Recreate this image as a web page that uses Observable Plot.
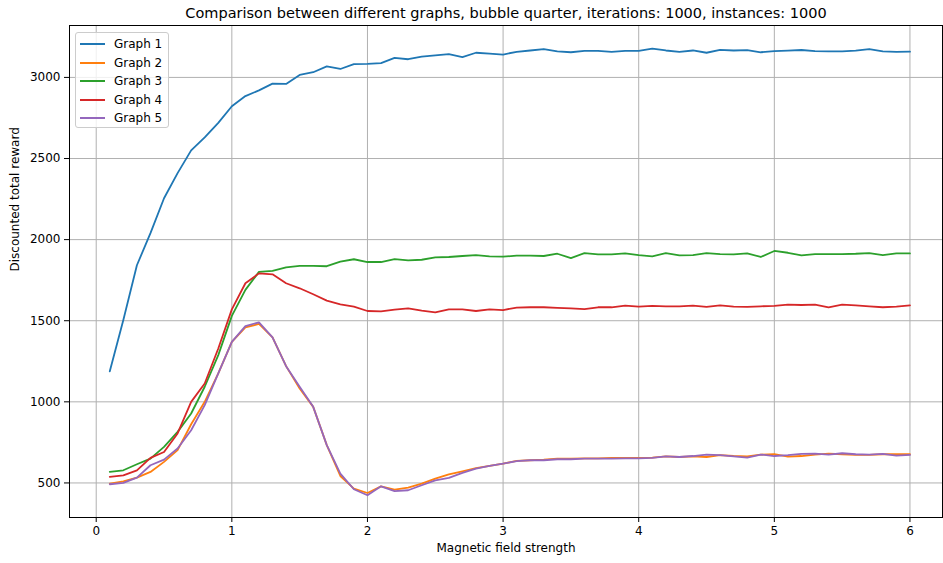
<!DOCTYPE html>
<html>
<head>
<meta charset="utf-8">
<script src="https://cdn.jsdelivr.net/npm/d3@7"></script>
<script src="https://cdn.jsdelivr.net/npm/@observablehq/plot@0.6"></script>
<style>
  html, body { margin: 0; padding: 0; background: white; }
  #wrap { position: relative; width: 943px; height: 563px; font-family: "DejaVu Sans", sans-serif; }
  #legend { position: absolute; left: 75px; top: 32px; width: 94px; height: 96px; box-sizing: border-box;
    border: 1px solid #cccccc; border-radius: 3px; background: rgba(255,255,255,0.8); }
  .item { position: absolute; left: 4px; height: 14px; display: flex; align-items: center; font-size: 12px; color: #000; white-space: nowrap; }
  .sw { width: 25px; height: 2px; margin-right: 9px; display: inline-block; }
</style>
</head>
<body>
<div id="wrap"><div id="legend"></div></div>
<script>
const title = "Comparison between different graphs, bubble quarter, iterations: 1000, instances: 1000";
const xLabel = "Magnetic field strength";
const yLabel = "Discounted total reward";
const seriesNames = ["Graph 1", "Graph 2", "Graph 3", "Graph 4", "Graph 5"];
const colors = ["#1f77b4", "#ff7f0e", "#2ca02c", "#d62728", "#9467bd"];
const xTicks = [0, 1, 2, 3, 4, 5, 6];
const yTicks = [500, 1000, 1500, 2000, 2500, 3000];

const xs = [0.1,0.2,0.3,0.4,0.5,0.6,0.7,0.8,0.9,1.0,1.1,1.2,1.3,1.4,1.5,1.6,1.7,1.8,1.9,2.0,
  2.1,2.2,2.3,2.4,2.5,2.6,2.7,2.8,2.9,3.0,3.1,3.2,3.3,3.4,3.5,3.6,3.7,3.8,3.9,4.0,
  4.1,4.2,4.3,4.4,4.5,4.6,4.7,4.8,4.9,5.0,5.1,5.2,5.3,5.4,5.5,5.6,5.7,5.8,5.9,6.0];

const graph1 = [1188,1505,1842,2040,2255,2410,2550,2630,2720,2822,2885,2920,2962,2960,3015,3032,3068,3052,3082,3083,
  3088,3120,3112,3128,3136,3143,3125,3152,3146,3141,3158,3166,3175,3160,3155,3164,3164,3158,3164,3164,
  3178,3166,3158,3166,3152,3170,3166,3168,3155,3162,3165,3169,3162,3160,3160,3165,3175,3160,3157,3159];
const graph2 = [496,510,533,568,630,702,862,1000,1175,1370,1459,1480,1397,1220,1082,969,733,543,465,438,
  479,459,471,496,527,553,572,592,605,619,636,640,644,650,650,652,652,654,654,654,
  656,664,660,664,660,671,666,664,675,677,662,666,675,681,677,673,673,677,677,677];
const graph3 = [568,578,615,650,722,815,928,1093,1288,1530,1690,1801,1807,1829,1838,1838,1836,1864,1879,1862,
  1862,1880,1872,1876,1890,1893,1899,1905,1897,1895,1901,1901,1899,1913,1886,1917,1909,1909,1915,1905,
  1897,1917,1903,1905,1917,1911,1909,1915,1893,1930,1919,1903,1911,1911,1911,1913,1917,1905,1915,1915];
const graph4 = [537,547,578,655,691,805,1000,1113,1329,1570,1731,1792,1786,1731,1700,1663,1624,1601,1587,1560,
  1558,1568,1576,1562,1552,1570,1570,1560,1570,1566,1581,1583,1583,1579,1576,1572,1583,1583,1593,1587,
  1591,1589,1589,1593,1585,1595,1587,1585,1589,1591,1599,1597,1599,1583,1599,1595,1589,1583,1587,1595];
const graph5 = [492,500,533,609,644,712,825,980,1175,1370,1467,1490,1397,1220,1093,969,733,558,461,424,
  479,449,455,486,516,531,562,588,605,619,634,640,640,646,646,650,650,650,652,652,
  654,664,660,666,675,671,664,656,675,666,671,679,681,675,683,677,675,679,669,673];

const allSeries = [graph1, graph2, graph3, graph4, graph5];
const data = allSeries.flatMap((vals, i) => vals.map((v, j) => ({x: xs[j], y: v, series: seriesNames[i]})));

const chart = Plot.plot({
  width: 943, height: 563,
  marginLeft: 69, marginRight: 1, marginTop: 25, marginBottom: 46,
  style: {fontFamily: "DejaVu Sans, sans-serif", fontSize: "12px", background: "white", color: "#000", overflow: "visible"},
  x: {domain: [-0.197, 6.24]},
  y: {domain: [287, 3320]},
  marks: [
    Plot.gridX(xTicks, {stroke: "#b0b0b0", strokeOpacity: 1, strokeWidth: 1}),
    Plot.gridY(yTicks, {stroke: "#b0b0b0", strokeOpacity: 1, strokeWidth: 1}),
    ...seriesNames.map((name, i) => Plot.line(data.filter(d => d.series === name),
      {x: "x", y: "y", stroke: colors[i], strokeWidth: 1.8, strokeLinejoin: "round"})),
    Plot.frame({stroke: "#000", strokeWidth: 1}),
    Plot.axisX(xTicks, {tickSize: 5, tickPadding: 4, label: null, fontSize: 12, tickFormat: d => String(d)}),
    Plot.axisY(yTicks, {tickSize: 5, tickPadding: 4, label: null, fontSize: 12, tickFormat: d => String(d)}),
    Plot.text([xLabel], {frameAnchor: "bottom", lineAnchor: "middle", dy: 31, fontSize: 12}),
    Plot.text([yLabel], {frameAnchor: "left", lineAnchor: "middle", dx: -54, rotate: -90, fontSize: 12}),
    Plot.text([title], {frameAnchor: "top", lineAnchor: "middle", dy: -12, fontSize: 14.5})
  ]
});
const wrap = document.getElementById("wrap");
wrap.insertBefore(chart, wrap.firstChild);

const legend = document.getElementById("legend");
seriesNames.forEach((name, i) => {
  const it = document.createElement("div");
  it.className = "item";
  it.style.top = (4 + i * 18.6) + "px";
  it.innerHTML = `<span class="sw" style="background:${colors[i]}"></span><span>${name}</span>`;
  legend.appendChild(it);
});
</script>
</body>
</html>
